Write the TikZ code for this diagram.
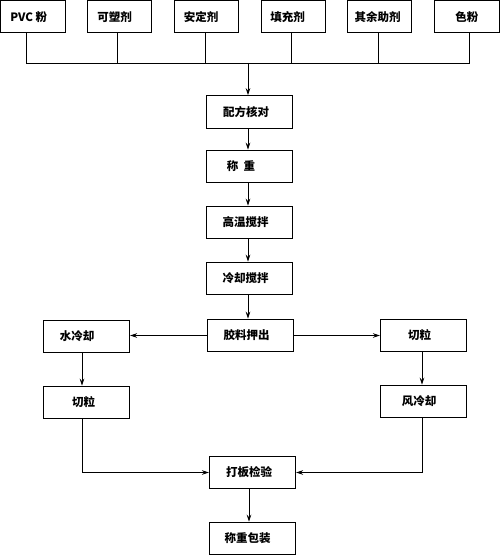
\documentclass[tikz,border=0pt]{standalone}
\usepackage{fontspec}
\setmainfont{Noto Sans CJK SC}
\usetikzlibrary{arrows.meta}
\newcommand\tsh[1]{\hspace*{#1pt}}
\begin{document}
\begin{tikzpicture}[x=1pt,y=-1pt,
  box/.style={draw,line width=1pt,inner sep=0pt,font=\fontsize{11.5}{12}\selectfont\bfseries},
  topbox/.style={box,minimum width=64.5pt,minimum height=32.5pt},
  midbox/.style={box,minimum width=86pt,minimum height=32.5pt},
  conn/.style={line width=0.9pt},
  arr/.style={conn,-{Stealth[length=7pt,width=4.5pt]}}]
\useasboundingbox (0,0) rectangle (500,556);
% top row
\node[topbox] (pvc) at (32.75,16.75) {PVC 粉\tsh{8}};
\node[topbox] (ksj) at (119.5,16.75) {可塑剂\tsh{10}};
\node[topbox] (adj) at (206.5,16.75) {安定剂\tsh{11}};
\node[topbox] (tcj) at (293.5,16.75) {填充剂\tsh{12}};
\node[topbox] (qyz) at (379.5,16.75) {其余助剂\tsh{4}};
\node[topbox] (sf) at (466.75,16.75) {色粉};
% bus points
\coordinate (b1) at (26,63);
\coordinate (b2) at (117,63);
\coordinate (b3) at (205,63);
\coordinate (b4) at (291,63);
\coordinate (b5) at (378,63);
\coordinate (b6) at (469,63);
\coordinate (bc) at (248,63);
% centre column
\node[midbox] (pf) at (249,112) {配方核对\tsh{6}};
\node[midbox] (cz) at (249,166.5) {称\ \ 重\tsh{16}};
\node[midbox] (gw) at (249,222.5) {高温搅拌\tsh{7}};
\node[midbox] (lq) at (249,278.5) {冷却搅拌\tsh{7}};
\node[midbox] (jl) at (250.5,335.5) {胶料押出\tsh{8}};
\node[midbox] (sl) at (86.5,336.5) {水冷却\tsh{19}};
\node[midbox] (ql) at (86.5,402.5) {切粒\tsh{6}};
\node[midbox] (qr) at (423.5,335.5) {切粒\tsh{8}};
\node[midbox] (fl) at (423.5,401.5) {风冷却\tsh{9}};
\node[midbox] (db) at (252.5,472.5) {打板检验\tsh{7}};
\node[midbox] (bz) at (252.5,538.5) {称重包装\tsh{10}};
% connectors
\draw[conn] (pvc.south -| b1) -- (b1) -- (b6) -- (sf.south -| b6);
\draw[conn] (ksj.south -| b2) -- (b2);
\draw[conn] (adj.south -| b3) -- (b3);
\draw[conn] (tcj.south -| b4) -- (b4);
\draw[conn] (qyz.south -| b5) -- (b5);
\draw[arr] (bc) -- (pf.north -| bc);
\draw[arr] (pf.south -| bc) -- (cz.north -| bc);
\draw[arr] (cz.south -| bc) -- (gw.north -| bc);
\draw[arr] (gw.south -| bc) -- (lq.north -| bc);
\draw[arr] (lq.south -| bc) -- (jl.north -| bc);
\draw[arr] (jl.west) -- (sl.east |- jl.west);
\draw[arr] (jl.east) -- (qr.west);
\coordinate (lx) at (82,0);
\coordinate (rx) at (422,0);
\draw[arr] (sl.south -| lx) -- (ql.north -| lx);
\draw[arr] (qr.south -| rx) -- (fl.north -| rx);
\draw[arr] (ql.south -| lx) |- (db.west);
\draw[arr] (fl.south -| rx) |- (db.east);
\coordinate (dx) at (249,0);
\draw[arr] (db.south -| dx) -- (bz.north -| dx);
\end{tikzpicture}
\end{document}
